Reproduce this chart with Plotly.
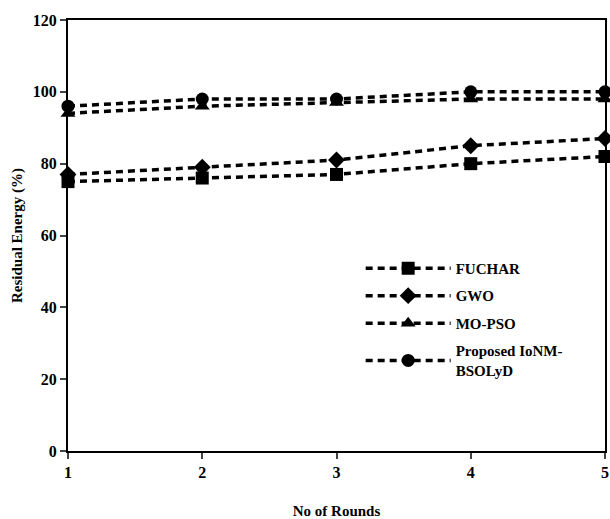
import plotly.graph_objects as go

rounds = [1, 2, 3, 4, 5]
fuchar = [75, 76, 77, 80, 82]
gwo = [77, 79, 81, 85, 87]
mopso = [94, 96, 97, 98, 98]
proposed = [96, 98, 98, 100, 100]

series = [
    ("FUCHAR", fuchar, "square"),
    ("GWO", gwo, "diamond"),
    ("MO-PSO", mopso, "triangle-up"),
    ("Proposed IoNM-<br>BSOLyD", proposed, "circle"),
]

font_family = "Liberation Serif, Times New Roman, serif"

fig = go.Figure()
for i, (name, vals, sym) in enumerate(series):
    fig.add_trace(go.Scatter(
        x=rounds, y=vals, name=name, mode="lines+markers",
        legendgroup=f"g{i}",
        line=dict(color="black", width=3.5, dash="7px,5px"),
        marker=dict(symbol=sym, size=13, color="black"),
        cliponaxis=False,
    ))

fig.update_layout(
    width=610, height=519,
    margin=dict(l=68, r=5, t=20, b=68, autoexpand=False),
    paper_bgcolor="white", plot_bgcolor="white",
    font=dict(family=font_family, size=14, color="black"),
    showlegend=True,
    legend=dict(
        x=0.545, y=0.462, xanchor="left", yanchor="top",
        bgcolor="rgba(0,0,0,0)",
        font=dict(family=font_family, size=15, color="black", weight="bold"),
        tracegroupgap=5, itemwidth=85,
    ),
    xaxis=dict(
        range=[1, 5], tickvals=rounds, ticks="outside", ticklen=6, tickwidth=2,
        showline=True, linecolor="black", linewidth=2, mirror=True,
        showgrid=False, zeroline=False, automargin=False,
        tickfont=dict(family=font_family, size=16, weight="bold"),
        title=dict(text="No of Rounds", standoff=25,
                   font=dict(family=font_family, size=15, weight="bold")),
    ),
    yaxis=dict(
        range=[0, 120], dtick=20, ticks="outside", ticklen=6, tickwidth=2,
        showline=True, linecolor="black", linewidth=2, mirror=True,
        showgrid=False, zeroline=False, automargin=False,
        tickfont=dict(family=font_family, size=16, weight="bold"),
        title=dict(text="Residual Energy (%)", standoff=7,
                   font=dict(family=font_family, size=15, weight="bold")),
    ),
)

fig.write_html("out.html", config={"displayModeBar": False},
               post_script="document.body.style.margin='0';")
